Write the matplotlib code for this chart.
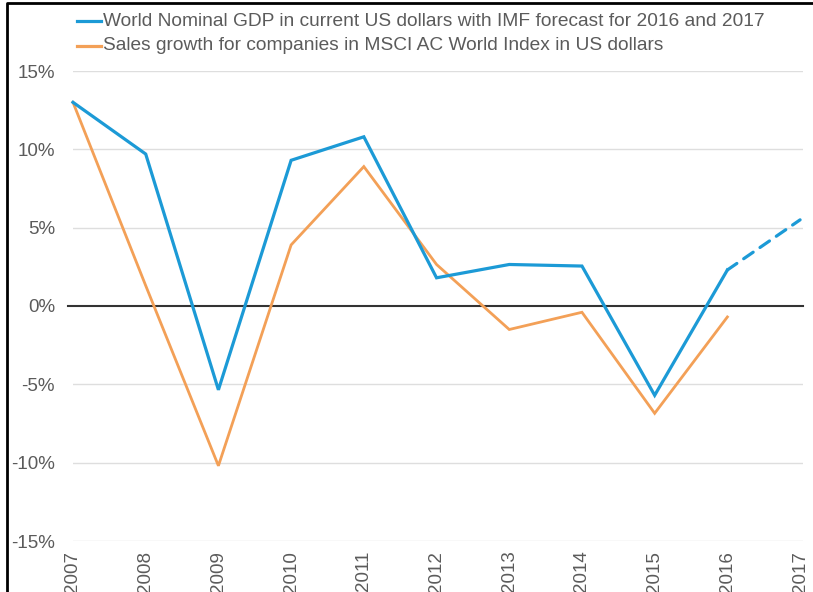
import matplotlib
matplotlib.use("Agg")
import matplotlib.pyplot as plt
from matplotlib import font_manager
from matplotlib.lines import Line2D

names = {f.name for f in font_manager.fontManager.ttflist}
narrow = "Liberation Sans Narrow" if "Liberation Sans Narrow" in names else "Liberation Sans"

years = [2007, 2008, 2009, 2010, 2011, 2012, 2013, 2014, 2015, 2016, 2017]
gdp = [13.0, 9.7, -5.35, 9.3, 10.8, 1.8, 2.65, 2.55, -5.7, 2.3, 5.5]
sales_years = years[:10]
sales = [13.0, 1.3, -10.2, 3.9, 8.9, 2.65, -1.5, -0.4, -6.85, -0.7]
yticks = [-15, -10, -5, 0, 5, 10, 15]
ytick_labels = ["-15%", "-10%", "-5%", "0%", "5%", "10%", "15%"]
legend_labels = ["World Nominal GDP in current US dollars with IMF forecast for 2016 and 2017",
                 "Sales growth for companies in MSCI AC World Index in US dollars"]

BLUE = "#1c9ad6"
ORANGE = "#f3a057"
GRAY = "#5b5b5b"

W, H = 813, 592
fig = plt.figure(figsize=(W / 100, H / 100), dpi=100)
ax = fig.add_axes([73 / W, 1 - 541 / H, (803 - 73) / W, (541 - 71) / H])

ax.set_xlim(2007, 2017.04)
ax.set_ylim(-15, 15)

for v in yticks:
    if v != 0:
        ax.axhline(v, color="#dedede", lw=1.0, zorder=1)
ax.plot([2006.93, 2017.04], [0, 0], color="#333333", lw=1.5, zorder=2, clip_on=False)

# GDP actual (to 2016) solid, forecast 2016-2017 dashed
ax.plot(years[:10], gdp[:10], color=BLUE, lw=2.3, zorder=4, clip_on=False,
        solid_joinstyle="miter")
ax.plot(years[9:], gdp[9:], color=BLUE, lw=2.3, zorder=4, clip_on=False,
        linestyle=(0, (3.6, 2.6)), dash_capstyle="round")
ax.plot(sales_years, sales, color=ORANGE, lw=2.0, zorder=3, clip_on=False,
        solid_joinstyle="miter")

for s in ax.spines.values():
    s.set_visible(False)

ax.set_yticks(yticks)
ax.set_yticklabels(ytick_labels, fontfamily=narrow, fontsize=13.5, color=GRAY)
ax.tick_params(axis="y", length=0, pad=13)
ax.set_xticks(years)
ax.set_xticklabels([str(y) for y in years], rotation=90, fontfamily="Liberation Sans",
                   fontsize=13.5, color=GRAY, va="top")
ax.tick_params(axis="x", length=0, pad=7)

# legend (manual)
for i, (lab, col) in enumerate(zip(legend_labels, [BLUE, ORANGE])):
    yy = 1 - (21 + i * 25) / H
    fig.add_artist(Line2D([77 / W, 101 / W], [yy, yy], color=col, lw=2.3))
    fig.text(103 / W, yy, lab, fontfamily=narrow, fontsize=13.75, color=GRAY,
             va="center", ha="left")

# frame border (left and top)
fig.add_artist(Line2D([6.5 / W, 6.5 / W, 1.0], [0, 1 - 3 / H, 1 - 3 / H],
                      color="black", lw=2.0))

fig.savefig("out.png", dpi=100)
